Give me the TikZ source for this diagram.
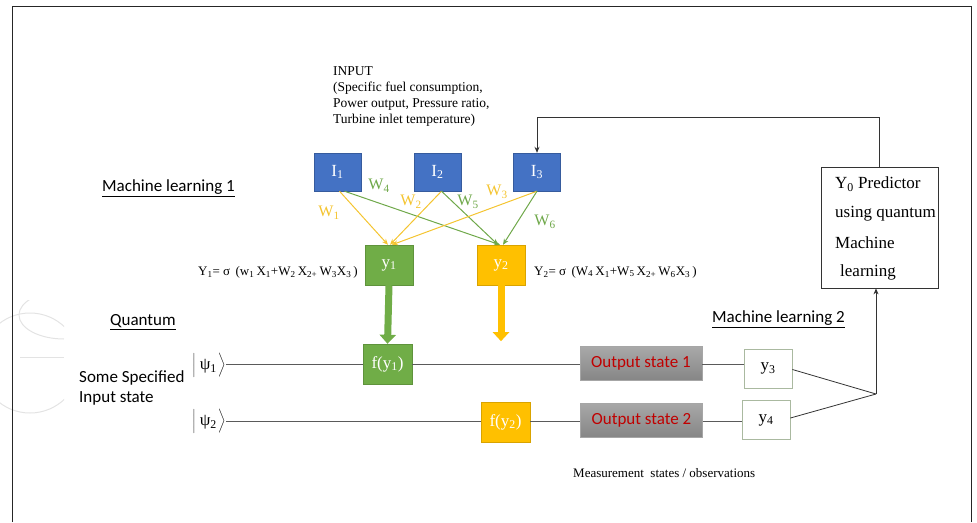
\documentclass[tikz,border=0pt]{standalone}
\usepackage{fontspec}
\setmainfont{Liberation Serif}
\newfontfamily\calib{Carlito}
\usetikzlibrary{arrows.meta,calc}
\definecolor{ibl}{HTML}{4472C4}
\definecolor{grn}{HTML}{70AD47}
\definecolor{ylw}{HTML}{FFC000}
\definecolor{lgrn}{HTML}{6FA84A}
\definecolor{lylw}{HTML}{F4C430}
\definecolor{dred}{HTML}{C00000}
\definecolor{edgec}{RGB}{170,185,160}
\definecolor{wirec}{RGB}{90,90,90}
\newcommand{\kbar}{$\left|\vrule height 13pt depth 9pt width 0pt\right.$}
\newcommand{\kang}{$\left.\vrule height 13pt depth 9pt width 0pt\right\rangle$}
\tikzset{
  inbox/.style={fill=ibl, draw=ibl!80!black, line width=0.4pt, minimum width=47pt, minimum height=38pt, text=white, font=\fontsize{17}{17}\selectfont, inner sep=0pt},
  gbox/.style={fill=grn, draw=grn!85!black, line width=0.4pt, minimum width=48pt, minimum height=40pt, text=white, font=\fontsize{17}{17}\selectfont, inner sep=0pt},
  ybox/.style={fill=ylw, draw=ylw!85!black, line width=0.4pt, minimum width=48pt, minimum height=40pt, text=white, font=\fontsize{17}{17}\selectfont, inner sep=0pt},
  outbox/.style={top color=gray!68, bottom color=gray!95, draw=gray!70, line width=0.4pt, minimum width=122pt, minimum height=34pt, text=dred, font=\calib\fontsize{17}{17}\selectfont, inner sep=0pt},
  wbox/.style={fill=white, draw=edgec, line width=0.8pt, minimum width=48pt, minimum height=39pt, font=\fontsize{17}{17}\selectfont, inner sep=0pt},
  ylink/.style={lylw, line width=1pt, -{Stealth[length=6pt,width=5pt]}},
  glink/.style={lgrn, line width=1pt, -{Stealth[length=6pt,width=5pt]}},
  wire/.style={wirec, line width=0.8pt},
  wlab/.style={font=\fontsize{16}{16}\selectfont, inner sep=0pt},
  head/.style={font=\calib\fontsize{17}{17}\selectfont, inner sep=0pt},
  ket/.style={inner sep=0pt, font=\fontsize{17}{17}\selectfont},
  predtext/.style={anchor=west, inner sep=0pt, font=\fontsize{17}{17}\selectfont},
  thick arrow/.style={line width=7pt, -{Triangle[length=9pt,width=16pt]}},
  wmarkline/.style={gray!22, line width=1pt},
}
\begin{document}
\begin{tikzpicture}[x=1pt,y=-1pt]
\useasboundingbox (0,0) rectangle (977,522);
% watermark
\begin{scope}
\clip (0,300) rectangle (64,420);
\draw[wmarkline] (30,363) circle (50);
\draw[wmarkline] (64,339) arc[start angle=90, end angle=270, x radius=45, y radius=24];
\draw[wmarkline] (20,357) -- (64,357);
\end{scope}
% frame
\draw[line width=1pt, gray!30!black] (12,522) -- (12,6) -- (971,6) -- (971,522);

% input text
\node[anchor=north west, align=left, inner sep=0pt, font=\fontsize{13.5}{16}\selectfont] (inp) at (333,66)
 {INPUT\\(Specific fuel consumption,\\Power output, Pressure ratio,\\Turbine inlet temperature)};

% input boxes
\node[inbox] (I1) at (337.5,172) {I\textsubscript{1}};
\node[inbox] (I2) at (437.5,172) {I\textsubscript{2}};
\node[inbox] (I3) at (537,172) {I\textsubscript{3}};

\node[head, anchor=west] (ml1) at (102,188) {\underline{Machine learning 1}};

% output neurons
\node[gbox] (y1) at (389,265) {y\textsubscript{1}};
\node[ybox] (y2) at (501,265) {y\textsubscript{2}};

% weighted connections
\draw[ylink] ($(I1.south)+(2,0)$) -- ($(y1.north)+(-1,0)$);
\draw[glink] ($(I1.south)+(7,0)$) -- ($(y2.north)+(-1,0)$);
\draw[ylink] ($(I2.south)+(4,0)$) -- ($(y1.north)+(1,0)$);
\draw[glink] ($(I2.south)+(4,0)$) -- ($(y2.north)+(-3,0)$);
\draw[ylink] ($(I3.south)+(0,0)$) -- ($(y1.north)+(3,0)$);
\draw[glink] ($(I3.south)+(0,0)$) -- ($(y2.north)+(2,0)$);

\node[wlab, text=lgrn] (w4) at (379,186) {W\textsubscript{4}};
\node[wlab, text=lylw] (w1) at (329,213) {W\textsubscript{1}};
\node[wlab, text=lylw] (w2) at (411,202) {W\textsubscript{2}};
\node[wlab, text=lgrn] (w5) at (468,202) {W\textsubscript{5}};
\node[wlab, text=lylw] (w3) at (497,192) {W\textsubscript{3}};
\node[wlab, text=lgrn] (w6) at (545,222) {W\textsubscript{6}};

% equations
\node[anchor=east, inner sep=0pt, font=\fontsize{13}{13}\selectfont] (eq1) at (358,272)
 {Y\textsubscript{1}= σ \,(w\textsubscript{1}\,X\textsubscript{1}+W\textsubscript{2}\,X\textsubscript{2+}\,W\textsubscript{3}X\textsubscript{3}\,)};
\node[anchor=west, inner sep=0pt, font=\fontsize{13}{13}\selectfont] (eq2) at (534,272)
 {Y\textsubscript{2}= σ \,(W\textsubscript{4}\,X\textsubscript{1}+W\textsubscript{5}\,X\textsubscript{2+}\,W\textsubscript{6}X\textsubscript{3}\,)};

% quantum part
\node[head, anchor=west] (qu) at (110,322) {\underline{Quantum}};
\node[head, anchor=west] (ml2) at (712,319) {\underline{Machine learning 2}};
\node[anchor=west, align=left, inner sep=0pt, font=\calib\fontsize{17}{20}\selectfont] (spec) at (79,388) {Some Specified\\Input state};

\node[ket] (k1) at (209,366) {\kbar\,ψ\textsubscript{1}\kang};
\node[ket] (k2) at (209,422) {\kbar\,ψ\textsubscript{2}\kang};

\node[gbox, minimum width=49pt] (f1) at (387.5,364) {f(y\textsubscript{1})};
\node[ybox, minimum width=49pt] (f2) at (505.5,422) {f(y\textsubscript{2})};
\node[outbox] (o1) at (641,363.5) {Output state 1};
\node[outbox] (o2) at (641.5,420) {Output state 2};
\node[wbox] (y3) at (768,368.5) {y\textsubscript{3}};
\node[wbox] (y4) at (766,420) {y\textsubscript{4}};

\draw[thick arrow, grn] (y1.south) -- (f1.north);
\draw[thick arrow, ylw] (y2.south) -- ++(0,56) coordinate (ya);

\draw[wire] (k1.east |- 0,364) -- (f1.west |- 0,364);
\draw[wire] (f1.east |- 0,364) -- (o1.west |- 0,364);
\draw[wire] (o1.east |- 0,364) -- (y3.west |- 0,364);
\draw[wire] (k2.east |- 0,421) -- (f2.west |- 0,421);
\draw[wire] (f2.east |- 0,421) -- (o2.west |- 0,421);
\draw[wire] (o2.east |- 0,421) -- (y4.west |- 0,421);

% predictor
\node[draw=black!80, line width=0.8pt, minimum width=117pt, minimum height=121pt, inner sep=0pt] (pred) at (879.5,227.5) {};
\node[predtext] (p1) at (835,184) {Y\textsubscript{0} Predictor};
\node[predtext] (p2) at (835,214) {using quantum};
\node[predtext] (p3) at (835,243) {Machine};
\node[predtext] (p4) at (840,272) {learning};

\coordinate (J) at (876,394);
\draw[black!80, line width=0.8pt] ($(y3.east)+(0,1)$) -- (J);
\draw[black!80, line width=0.8pt] ($(y4.east)+(0,-2)$) -- (J);
\draw[black!80, line width=0.8pt, -{Stealth[length=6pt,width=5pt]}] (J) -- (J |- pred.south);

\coordinate (fb) at (879,117);
\draw[black!80, line width=0.8pt, -{Stealth[length=6pt,width=5pt]}] (pred.north -| fb) -- (fb) -- (fb -| I3.north) -- (I3.north);

\node[anchor=west, inner sep=0pt, font=\fontsize{13}{13}\selectfont] (meas) at (573,473) {Measurement\ \ states / observations};
\end{tikzpicture}
\end{document}
